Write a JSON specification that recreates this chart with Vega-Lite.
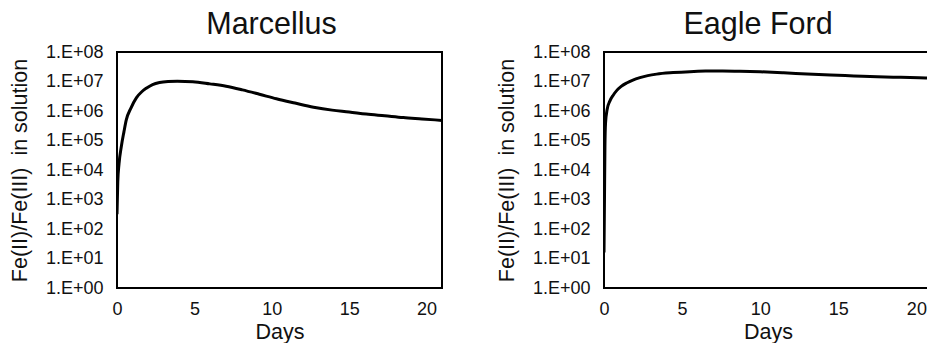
{
  "$schema": "https://vega.github.io/schema/vega-lite/v6.json",
  "padding": {"left": 8, "top": 8, "right": 0, "bottom": 0},
  "spacing": 52,
  "background": "white",
  "config": {
    "font": "Liberation Sans",
    "view": {"stroke": "black", "strokeWidth": 2},
    "axis": {"grid": false, "domain": false, "ticks": false, "tickSize": 0, "labelFlush": false, "labelColor": "#111111", "titleColor": "#111111", "labelFont": "Liberation Sans", "titleFont": "Liberation Sans", "labelFontSize": 18, "titleFontSize": 21.5, "titleFontWeight": "normal"},
    "title": {"font": "Liberation Sans", "fontSize": 30.5, "fontWeight": "normal", "color": "#111111", "anchor": "middle"}
  },
  "data": {"values": [
    {"site": "Marcellus", "day": 0, "ratio": 316},
    {"site": "Marcellus", "day": 0.05, "ratio": 4000},
    {"site": "Marcellus", "day": 0.13, "ratio": 16000},
    {"site": "Marcellus", "day": 0.28, "ratio": 63000},
    {"site": "Marcellus", "day": 0.45, "ratio": 200000},
    {"site": "Marcellus", "day": 0.6, "ratio": 500000},
    {"site": "Marcellus", "day": 0.9, "ratio": 1260000},
    {"site": "Marcellus", "day": 1.25, "ratio": 2800000},
    {"site": "Marcellus", "day": 1.6, "ratio": 4500000},
    {"site": "Marcellus", "day": 1.89, "ratio": 5900000},
    {"site": "Marcellus", "day": 2.3, "ratio": 7900000},
    {"site": "Marcellus", "day": 2.75, "ratio": 9300000},
    {"site": "Marcellus", "day": 3.3, "ratio": 10000000},
    {"site": "Marcellus", "day": 3.9, "ratio": 10200000},
    {"site": "Marcellus", "day": 4.9, "ratio": 9800000},
    {"site": "Marcellus", "day": 6, "ratio": 8300000},
    {"site": "Marcellus", "day": 7.05, "ratio": 6900000},
    {"site": "Marcellus", "day": 8.1, "ratio": 5200000},
    {"site": "Marcellus", "day": 9.2, "ratio": 3700000},
    {"site": "Marcellus", "day": 10.3, "ratio": 2600000},
    {"site": "Marcellus", "day": 11.5, "ratio": 1860000},
    {"site": "Marcellus", "day": 12.7, "ratio": 1350000},
    {"site": "Marcellus", "day": 13.9, "ratio": 1070000},
    {"site": "Marcellus", "day": 15, "ratio": 930000},
    {"site": "Marcellus", "day": 16.1, "ratio": 790000},
    {"site": "Marcellus", "day": 17.3, "ratio": 690000},
    {"site": "Marcellus", "day": 18.5, "ratio": 600000},
    {"site": "Marcellus", "day": 19.7, "ratio": 540000},
    {"site": "Marcellus", "day": 21, "ratio": 480000},
    {"site": "Eagle Ford", "day": 0, "ratio": 16},
    {"site": "Eagle Ford", "day": 0.03, "ratio": 1000},
    {"site": "Eagle Ford", "day": 0.06, "ratio": 63000},
    {"site": "Eagle Ford", "day": 0.1, "ratio": 400000},
    {"site": "Eagle Ford", "day": 0.2, "ratio": 1120000},
    {"site": "Eagle Ford", "day": 0.38, "ratio": 2200000},
    {"site": "Eagle Ford", "day": 0.6, "ratio": 3500000},
    {"site": "Eagle Ford", "day": 0.81, "ratio": 4900000},
    {"site": "Eagle Ford", "day": 1.1, "ratio": 6800000},
    {"site": "Eagle Ford", "day": 1.45, "ratio": 8900000},
    {"site": "Eagle Ford", "day": 1.85, "ratio": 11200000},
    {"site": "Eagle Ford", "day": 2.3, "ratio": 13500000},
    {"site": "Eagle Ford", "day": 2.8, "ratio": 15800000},
    {"site": "Eagle Ford", "day": 3.37, "ratio": 17800000},
    {"site": "Eagle Ford", "day": 4.43, "ratio": 20000000},
    {"site": "Eagle Ford", "day": 5.5, "ratio": 21600000},
    {"site": "Eagle Ford", "day": 6.5, "ratio": 22500000},
    {"site": "Eagle Ford", "day": 7.6, "ratio": 22800000},
    {"site": "Eagle Ford", "day": 8.7, "ratio": 22400000},
    {"site": "Eagle Ford", "day": 10, "ratio": 21400000},
    {"site": "Eagle Ford", "day": 11.5, "ratio": 19800000},
    {"site": "Eagle Ford", "day": 13, "ratio": 18000000},
    {"site": "Eagle Ford", "day": 14.5, "ratio": 16600000},
    {"site": "Eagle Ford", "day": 16, "ratio": 15500000},
    {"site": "Eagle Ford", "day": 17.5, "ratio": 14500000},
    {"site": "Eagle Ford", "day": 19, "ratio": 13800000},
    {"site": "Eagle Ford", "day": 20.6, "ratio": 13200000},
    {"site": "Eagle Ford", "day": 21, "ratio": 12900000}
  ]},
  "hconcat": [
    {
      "title": {"text": "Marcellus", "dx": -8, "offset": 3},
      "width": 325,
      "height": 236,
      "transform": [{"filter": "datum.site === 'Marcellus'"}],
      "mark": {"type": "line", "color": "black", "strokeWidth": 3, "interpolate": "monotone", "clip": true},
      "encoding": {
        "x": {"field": "day", "type": "quantitative", "scale": {"domain": [0, 21], "nice": false, "zero": false}, "axis": {"values": [0, 5, 10, 15, 20], "title": "Days", "labelPadding": 12, "titlePadding": 3}},
        "y": {"field": "ratio", "type": "quantitative", "scale": {"type": "log", "domain": [1, 100000000], "nice": false}, "axis": {"values": [1, 10, 100, 1000, 10000, 100000, 1000000, 10000000, 100000000], "labelExpr": "'1.E+0' + round(log(datum.value) / LN10)", "title": "Fe(II)/Fe(III)\u00a0\u00a0in solution", "labelPadding": 14, "titlePadding": 14}}
      }
    },
    {
      "title": {"text": "Eagle Ford", "dx": -10, "offset": 3},
      "width": 328,
      "height": 236,
      "transform": [{"filter": "datum.site === 'Eagle Ford'"}],
      "mark": {"type": "line", "color": "black", "strokeWidth": 3, "interpolate": "monotone", "clip": true},
      "encoding": {
        "x": {"field": "day", "type": "quantitative", "scale": {"domain": [0, 21], "nice": false, "zero": false}, "axis": {"values": [0, 5, 10, 15, 20], "title": "Days", "labelPadding": 12, "titlePadding": 3}},
        "y": {"field": "ratio", "type": "quantitative", "scale": {"type": "log", "domain": [1, 100000000], "nice": false}, "axis": {"values": [1, 10, 100, 1000, 10000, 100000, 1000000, 10000000, 100000000], "labelExpr": "'1.E+0' + round(log(datum.value) / LN10)", "title": "Fe(II)/Fe(III)\u00a0\u00a0in solution", "labelPadding": 14, "titlePadding": 14}}
      }
    }
  ]
}
